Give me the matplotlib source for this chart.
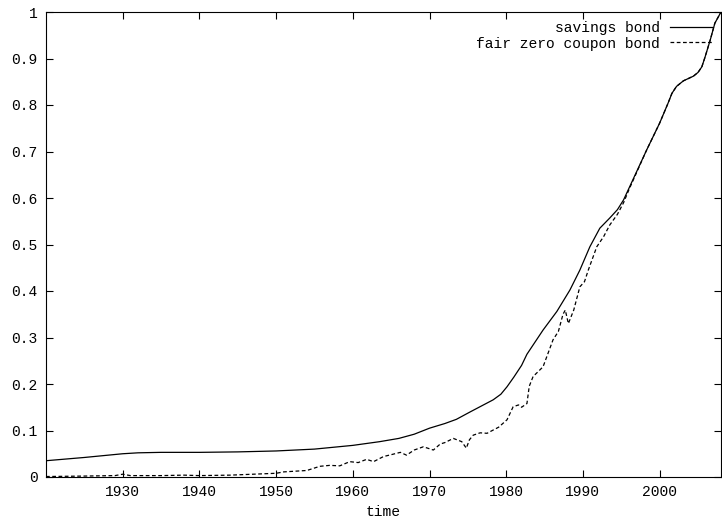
import matplotlib
matplotlib.use('Agg')
import matplotlib.pyplot as plt

plt.rcParams['font.family'] = ['Liberation Mono', 'DejaVu Sans Mono']
plt.rcParams['font.size'] = 10.5

# savings bond (solid)
sav_years = [1920, 1925, 1930, 1932, 1935, 1940, 1945, 1950, 1955, 1960,
             1963.5, 1966, 1968, 1970, 1972, 1973.5, 1975.3, 1978.3, 1979.3,
             1980.1, 1981, 1982, 1982.7, 1984.8, 1986.6, 1988.3, 1989.6, 1990.9,
             1992.2, 1993.5, 1994.5, 1995.3, 1998.3, 2000, 2001.1, 2001.6,
             2002.2, 2003.1, 2004.4, 2005, 2005.5, 2005.9, 2006.6, 2007.2, 2008]
sav_vals = [0.035, 0.042, 0.050, 0.052, 0.053, 0.053, 0.054, 0.056, 0.060, 0.068,
            0.076, 0.083, 0.092, 0.105, 0.115, 0.124, 0.140, 0.166, 0.178,
            0.194, 0.215, 0.240, 0.264, 0.316, 0.356, 0.402, 0.445, 0.495,
            0.535, 0.557, 0.575, 0.596, 0.703, 0.761, 0.804, 0.825,
            0.840, 0.852, 0.862, 0.870, 0.882, 0.902, 0.940, 0.976, 1.0]

# fair zero coupon bond (dashed)
zc_years = [1920, 1925, 1929, 1930, 1931, 1935, 1938, 1940, 1944, 1947, 1950,
            1951, 1954, 1955.7, 1957, 1958.3, 1959.6, 1960.7, 1961.8, 1962.7,
            1964, 1965, 1966.2, 1967, 1968, 1969.2, 1970.5, 1971.4, 1972,
            1973.1, 1974.2, 1974.8, 1975.2, 1975.7, 1976.6, 1977.5, 1978.3,
            1979, 1980.1, 1980.9, 1981.6, 1982, 1982.7, 1983, 1983.5, 1984.8,
            1986.1, 1986.8, 1987.4, 1987.7, 1988.1, 1988.8, 1989.6, 1990.2,
            1990.7, 1991.8, 1992.7, 1993.5, 1994.5, 1995.3, 1996, 1998.3, 2000,
            2001.1, 2001.6, 2002.2, 2003.1, 2004.4, 2005, 2005.5, 2005.9,
            2006.6, 2007.2, 2008]
zc_vals = [0.001, 0.002, 0.003, 0.006, 0.003, 0.003, 0.004, 0.003, 0.004, 0.006, 0.008,
           0.011, 0.014, 0.023, 0.025, 0.024, 0.033, 0.031, 0.038, 0.033,
           0.044, 0.048, 0.053, 0.047, 0.058, 0.065, 0.058, 0.071, 0.074,
           0.083, 0.076, 0.062, 0.080, 0.090, 0.095, 0.094, 0.101,
           0.107, 0.123, 0.151, 0.155, 0.150, 0.158, 0.195, 0.216, 0.237,
           0.295, 0.313, 0.350, 0.359, 0.330, 0.359, 0.409, 0.420,
           0.445, 0.495, 0.517, 0.542, 0.565, 0.590, 0.618, 0.703, 0.761,
           0.804, 0.825, 0.840, 0.852, 0.862, 0.870, 0.882, 0.902,
           0.940, 0.976, 1.0]

xticks = [1930, 1940, 1950, 1960, 1970, 1980, 1990, 2000]
yticks = [0, 0.1, 0.2, 0.3, 0.4, 0.5, 0.6, 0.7, 0.8, 0.9, 1]
ylabels = ['0', '0.1', '0.2', '0.3', '0.4', '0.5', '0.6', '0.7', '0.8', '0.9', '1']

fig = plt.figure(figsize=(7.22, 5.21), dpi=100)
ax = fig.add_axes([46 / 722, 44 / 521, 675 / 722, 465 / 521])

ax.plot(sav_years, sav_vals, color='black', lw=0.9, label='savings bond')
ax.plot(zc_years, zc_vals, color='black', lw=0.9, dashes=(3, 2),
        label='fair zero coupon bond')

ax.set_xlim(1920, 2008)
ax.set_ylim(0, 1)
ax.set_xticks(xticks)
ax.set_yticks(yticks)
ax.set_yticklabels(ylabels)
ax.tick_params(direction='in', length=5, width=0.8, top=True, right=True, pad=6)
for s in ax.spines.values():
    s.set_linewidth(0.8)
ax.set_xlabel('time', labelpad=4)

ax.legend(loc='upper right', frameon=False, markerfirst=False,
          handlelength=2.9, handletextpad=0.7, labelspacing=0.12,
          borderaxespad=0.2, bbox_to_anchor=(1.0, 1.0))

fig.savefig('out.png', dpi=100)
